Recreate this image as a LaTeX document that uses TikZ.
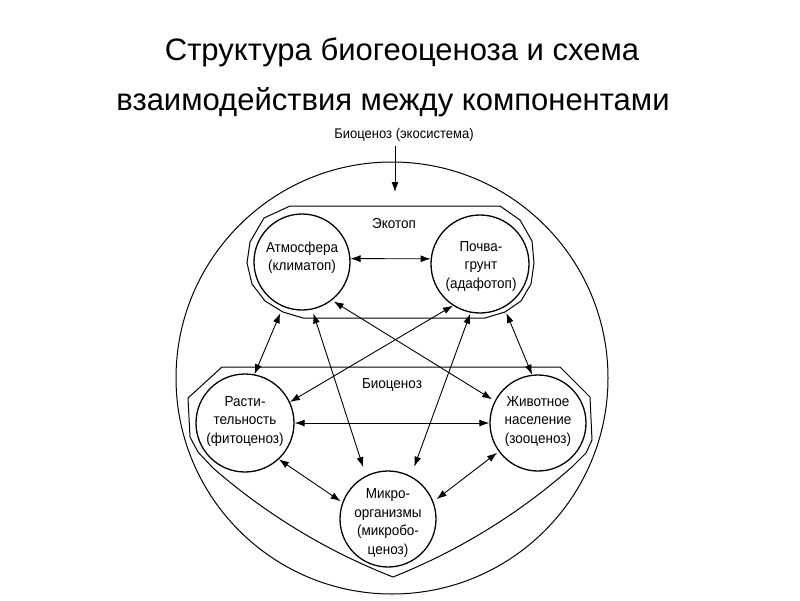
\documentclass[tikz,border=0pt]{standalone}
\usepackage{fontspec}
\setmainfont{Liberation Sans}
\newfontfamily\diagfont[FakeStretch=0.93]{Liberation Sans}
\usetikzlibrary{arrows.meta}
\begin{document}
\begin{tikzpicture}[x=1pt,y=-1pt,
  outl/.style={line width=1pt},
  comp/.style={draw, circle, line width=1.3pt, inner sep=0pt, minimum size=96pt},
  lbl/.style={font=\diagfont\fontsize{14.5}{18.5}\selectfont, align=center, inner sep=0pt},
  ttl/.style={font=\fontsize{31}{36}\selectfont, inner sep=0pt, anchor=base},
  tip/.tip={Latex[length=10pt,width=7pt]},
  link/.style={line width=0.9pt, tip-tip},
  ]
\useasboundingbox[fill=white] (0,0) rectangle (800,600);

% title
\node[ttl] (t1) at (402,60) {Структура биогеоценоза и схема};
\node[ttl] (t2) at (393,110) {взаимодействия между компонентами};

% outer ecosystem circle
\draw[outl] (392,378) circle[radius=216];

% label and arrow
\node[lbl, anchor=base, font=\diagfont\fontsize{14}{16}\selectfont] (eco) at (404,138) {Биоценоз (экосистема)};
\coordinate (topend) at (395,192);
\draw[line width=0.9pt, -tip, shorten <=5pt] (eco.south -| topend) -- (topend);

% Ekotop outline
\draw[outl] (290,206) -- (500,206) -- (520,220) -- (532,241) -- (534,263) -- (531,284)
  -- (521,301) -- (505,312) -- (485,318) -- (303,318) -- (283,312) -- (265,301)
  -- (252,284) -- (247,263) -- (250,242) -- (264,218) -- cycle;
\node[lbl, anchor=base] (ekotopT) at (394,228) {Экотоп};

% Biocenosis outline
\draw[outl] (222,367) -- (560,367) -- (590,397) -- (592,440) -- (586,453) -- (573,466)
  .. controls (519.7,513.3) and (459.7,550.3) .. (393,577)
  .. controls (326.7,551) and (266.7,514.7) .. (213,468)
  -- (198,452) -- (190,437) -- (188,398) -- cycle;
\node[lbl, anchor=base] (bioT) at (392,388) {Биоценоз};

% components
\node[comp] (atm) at (302,262) {};
\node[comp, minimum size=98pt] (pochva) at (480,264) {};
\node[comp, minimum size=98pt] (rast) at (245,423) {};
\node[comp] (zhiv) at (538,423) {};
\node[comp] (mikro) at (388,519) {};

\node[lbl] (atmT) at (302,257.5) {Атмосфера\\(климатоп)};
\node[lbl] (pochvaT) at (481,266.5) {Почва-\\грунт\\(адафотоп)};
\node[lbl] (rastT) at (245,421.5) {Расти-\\тельность\\(фитоценоз)};
\node[lbl] (zhivT) at (538,421.5) {Животное\\население\\(зооценоз)};
\node[lbl] (mikroT) at (388,523) {Микро-\\организмы\\(микробо-\\ценоз)};

% connectors
\draw[link] (atm.4) -- (pochva.174);
\draw[link] (rast.east) -- (zhiv.west);
\draw[link, shorten <=7pt] (atm.-113) -- (rast.79);
\draw[link, shorten <=6pt] (pochva.-61) -- (zhiv.97);
\draw[link, shorten <=4pt, shorten >=9pt] (atm.-78) -- (mikro.117);
\draw[link, shorten <=1pt, shorten >=10pt] (pochva.-101) -- (mikro.62);
\draw[link, shorten <=2pt, shorten >=3pt] (atm.-52) -- (zhiv.153);
\draw[link] (pochva.-123) -- (rast.25);
\draw[link, shorten >=2pt] (rast.-47) -- (mikro.160);
\draw[link, shorten <=2pt, shorten >=4pt] (zhiv.-144) -- (mikro.21);
\end{tikzpicture}
\end{document}
